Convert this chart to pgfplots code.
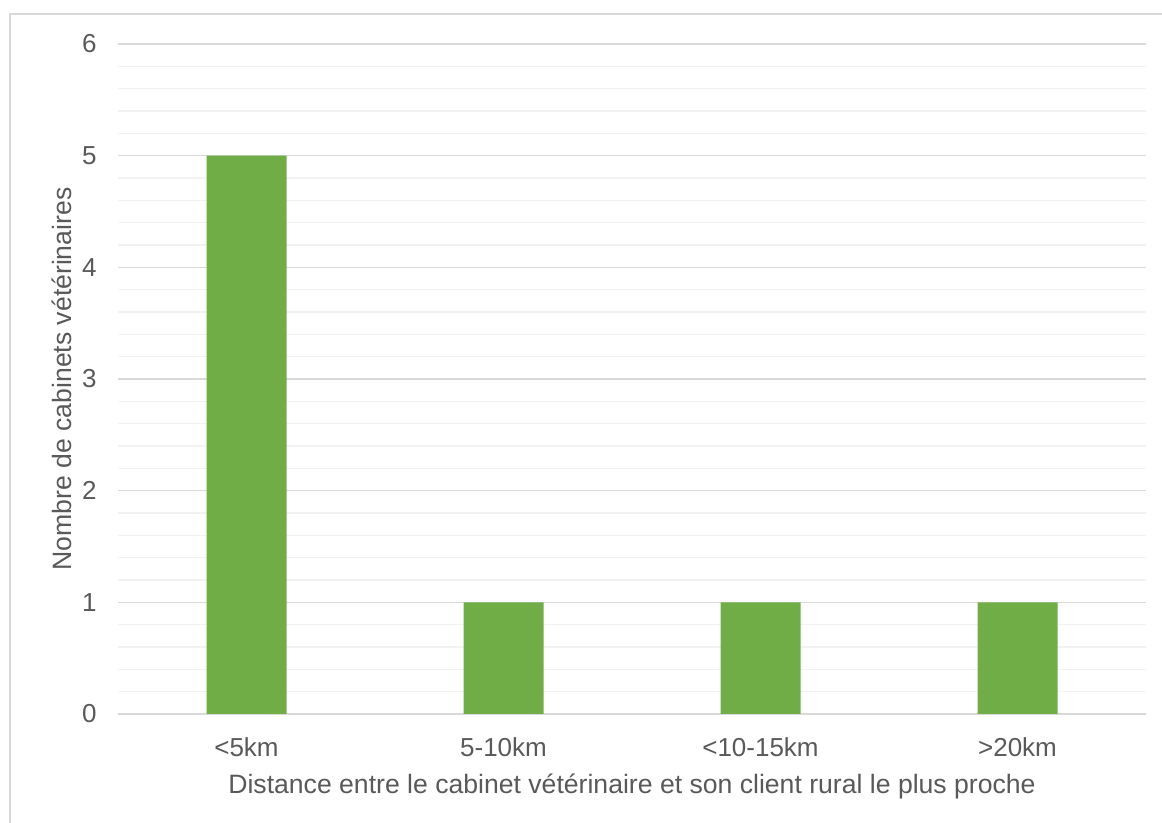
\documentclass[border=0pt]{standalone}
\usepackage{fontspec}
\setmainfont{Liberation Sans}
\usepackage{pgfplots}
\pgfplotsset{compat=1.18}
\definecolor{txt}{HTML}{595959}
\definecolor{majg}{HTML}{D9D9D9}
\definecolor{ming}{HTML}{F2F2F2}
\definecolor{barg}{HTML}{70AD47}
\begin{document}
\fontsize{13pt}{15.6pt}\selectfont
\begin{tikzpicture}
\useasboundingbox (0,0) rectangle (581pt,411.5pt);
\draw[majg, line width=0.8pt] (5pt,0pt) -- (5pt,404.5pt) -- (590pt,404.5pt);
\begin{axis}[
  at={(59pt,54.5pt)}, anchor=south west,
  scale only axis, width=514pt, height=335pt,
  xmin=-0.5, xmax=3.5, ymin=0, ymax=6,
  ybar, bar width=40pt,
  xtick={0,1,2,3},
  xticklabels={{<5km},{5-10km},{<10-15km},{>20km}},
  ytick={0,1,2,3,4,5,6},
  minor y tick num=4,
  major tick length=0pt, minor tick length=0pt,
  ymajorgrids, yminorgrids,
  major grid style={majg, line width=0.7pt},
  minor grid style={ming, line width=0.7pt},
  axis line style={draw=none},
  tick label style={font=\fontsize{13pt}{15.6pt}\selectfont, text=txt},
  /pgf/number format/assume math mode=true,
  yticklabel style={inner sep=0pt, anchor=east, xshift=-10.5pt},
  xticklabel style={inner sep=0pt, anchor=north, yshift=-11.5pt},
  xlabel={Distance entre le cabinet vétérinaire et son client rural le plus proche},
  ylabel={Nombre de cabinets vétérinaires},
  label style={font=\fontsize{13.3pt}{16pt}\selectfont, text=txt},
  xlabel style={at={(axis description cs:0.5,0)}, anchor=north, inner sep=0pt, yshift=-30pt},
  ylabel style={at={(axis description cs:0,0.5)}, anchor=center, inner sep=0pt, yshift=28pt},
]
\addplot[fill=barg, draw=none] coordinates {(0,5) (1,1) (2,1) (3,1)};
\end{axis}
\end{tikzpicture}
\end{document}
